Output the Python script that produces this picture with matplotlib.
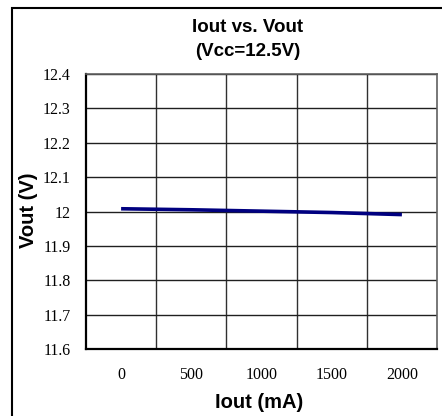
import numpy as np
import matplotlib.pyplot as plt
from matplotlib.patches import Rectangle

iout = ["0", "500", "1000", "1500", "2000"]
vout = [12.008, 12.005, 12.001, 11.997, 11.991]
yticks = [11.6, 11.7, 11.8, 11.9, 12.0, 12.1, 12.2, 12.3, 12.4]
ylabels = ["11.6", "11.7", "11.8", "11.9", "12", "12.1", "12.2", "12.3", "12.4"]

fig = plt.figure(figsize=(4.42, 4.16), dpi=100)
ax = fig.add_axes([86 / 442, 67 / 416, 351 / 442, 275 / 416])

x = np.arange(len(iout))
ax.plot(x, vout, color="#000080", lw=2.6, solid_capstyle="butt")

ax.set_xlim(-0.5, len(iout) - 0.5)
ax.set_ylim(11.6, 12.4)
ax.set_xticks(x)
ax.set_xticklabels(iout, family="Liberation Serif", fontsize=11.5)
ax.set_yticks(yticks)
ax.set_yticklabels(ylabels, family="Liberation Serif", fontsize=11.5)
ax.set_xticks(x[:-1] + 0.5, minor=True)
ax.tick_params(axis="both", which="both", length=0)
ax.tick_params(axis="y", pad=11)
ax.tick_params(axis="x", pad=13)
ax.grid(True, axis="y", which="major", color="#202020", lw=1)
ax.grid(True, axis="x", which="minor", color="#303030", lw=1)
ax.set_axisbelow(True)

for s in ["left", "bottom"]:
    ax.spines[s].set_linewidth(1.6)
    ax.spines[s].set_color("black")
for s in ["right", "top"]:
    ax.spines[s].set_linewidth(1.2)
    ax.spines[s].set_color("#606060")

bold = dict(family="Liberation Sans", fontweight="bold")
fig.text(248 / 442, 1 - 27 / 416, "Iout vs. Vout", ha="center", va="center", fontsize=13.5, **bold)
fig.text(248 / 442, 1 - 52 / 416, "(Vcc=12.5V)", ha="center", va="center", fontsize=13.5, **bold)
fig.text(259 / 442, 1 - 403 / 416, "Iout (mA)", ha="center", va="center", fontsize=14.5, **bold)
fig.text(28 / 442, 1 - 210 / 416, "Vout (V)", ha="center", va="center", rotation=90, fontsize=14.5, **bold)

# outer chart frame
fig.patches.append(Rectangle((12 / 442, -0.1), 1.2, 1 - 8 / 416 + 0.1, transform=fig.transFigure,
                             fill=False, edgecolor="black", lw=1.5))

fig.savefig("out.png", dpi=100)
